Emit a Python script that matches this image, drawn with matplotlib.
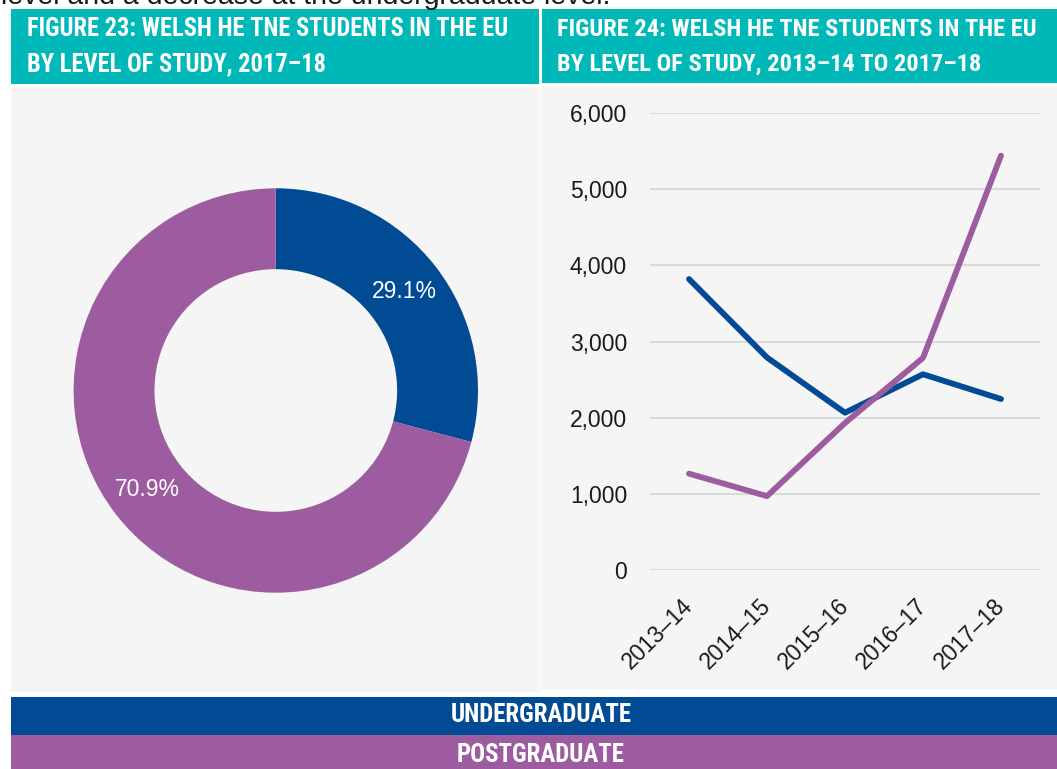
import os
import matplotlib
matplotlib.use("Agg")
import matplotlib.pyplot as plt
import matplotlib.font_manager as fm
from matplotlib.patches import Rectangle

# ---------------- data ----------------
pie_labels = ["Undergraduate", "Postgraduate"]
pie_shares = [29.1, 70.9]

years = ["2013–14", "2014–15", "2015–16", "2016–17", "2017–18"]
undergrad = [3820, 2790, 2065, 2570, 2245]
postgrad = [1265, 970, 1930, 2785, 5440]
y_ticks = [0, 1000, 2000, 3000, 4000, 5000, 6000]

title_left = ["FIGURE 23: WELSH HE TNE STUDENTS IN THE EU", "BY LEVEL OF STUDY, 2017–18"]
title_right = ["FIGURE 24: WELSH HE TNE STUDENTS IN THE EU", "BY LEVEL OF STUDY, 2013–14 TO 2017–18"]
legend_labels = ["UNDERGRADUATE", "POSTGRADUATE"]
top_text = "level and a decrease at the undergraduate level."

# ---------------- style ----------------
BLUE = "#004b93"
PURPLE = "#9d5c9f"
TEAL = "#00b8b8"
PANEL = "#f5f5f5"
GRID = "#d9d9d9"
TEXT = "#1a1a1a"

W, H = 1057, 769
DPI = 100
fig = plt.figure(figsize=(W / DPI, H / DPI), dpi=DPI, facecolor="white")


def find_font(patterns):
    for pat in patterns:
        for f in fm.fontManager.ttflist:
            base = os.path.splitext(os.path.basename(f.fname))[0]
            if base.lower() == pat.lower():
                return fm.FontProperties(fname=f.fname)
    return fm.FontProperties(family="DejaVu Sans", weight="bold", stretch="condensed")


COND = find_font(["RobotoCondensed-Bold", "NotoSans-CondensedBold", "NotoSansCondensed-Bold",
                  "LiberationSansNarrow-Bold", "DejaVuSansCondensed-Bold"])
REG = "Liberation Sans"


def fx(x):
    return x / W


def fy(y):
    return 1 - y / H


def rect(x0, y0, x1, y1, color):
    fig.add_artist(Rectangle((fx(x0), fy(y1)), fx(x1) - fx(x0), fy(y0) - fy(y1),
                             transform=fig.transFigure, facecolor=color, edgecolor="none",
                             zorder=0))


# panels
rect(11, 9.3, 539.3, 84.3, TEAL)
rect(541.5, 9.3, 1057, 83.3, TEAL)
rect(11, 87, 540, 692.3, PANEL)
rect(541, 86, 1057, 689.7, PANEL)
rect(11, 696.7, 1057, 735, BLUE)
rect(11, 735, 1057, 769, PURPLE)

renderer = fig.canvas.get_renderer()


def fitted_texts(lines, xs, ys, target_w, ha="left", ref=0):
    ts = []
    for s, x, y in zip(lines, xs, ys):
        t = fig.text(fx(x), fy(y), s, fontproperties=COND.copy(), color="white",
                     ha=ha, va="baseline", zorder=5)
        t.set_fontsize(20)
        ts.append(t)
    w = ts[ref].get_window_extent(renderer).width
    size = 20 * target_w / w
    for t in ts:
        t.set_fontsize(size)
    return ts


fitted_texts(title_left, [27, 27], [35.7, 71], 483)
fitted_texts(title_right, [556.8, 556.8], [35.7, 71], 481)
fitted_texts(legend_labels, [541, 541], [721.7, 762.5], 181.4, ha="center")

fig.text(fx(1), fy(4), top_text, family=REG, fontsize=20.5, color=TEXT, ha="left",
         va="baseline")

# ---------------- donut ----------------
axp = fig.add_axes([fx(73.3), fy(592.7), fx(478.3) - fx(73.3), fy(188.3) - fy(592.7)])
axp.set_facecolor("none")
axp.pie(pie_shares, colors=[BLUE, PURPLE], startangle=90, counterclock=False,
        radius=1, wedgeprops=dict(width=0.4, edgecolor="none"),
        autopct="%1.1f%%", pctdistance=0.8,
        textprops=dict(color="white", fontsize=16.5, family=REG))
axp.set_xlim(-1, 1)
axp.set_ylim(-1, 1)
axp.set_aspect("equal")
axp.axis("off")

# ---------------- line chart ----------------
axl = fig.add_axes([fx(650), fy(570), fx(1040) - fx(650), fy(113) - fy(570)])
axl.set_facecolor("none")
x = list(range(len(years)))
axl.plot(x, undergrad, color=BLUE, lw=4.2, solid_capstyle="round", solid_joinstyle="round",
         zorder=3, clip_on=False)
axl.plot(x, postgrad, color=PURPLE, lw=4.2, solid_capstyle="round", solid_joinstyle="round",
         zorder=4, clip_on=False)
axl.set_xlim(-0.5, 4.5)
axl.set_ylim(0, 6000)
axl.set_yticks(y_ticks)
axl.set_yticklabels([f"{v:,}" for v in y_ticks], family=REG, fontsize=16.5, color=TEXT)
axl.set_xticks(x)
axl.set_xticklabels(years, family=REG, fontsize=16.5, color=TEXT, rotation=45,
                    ha="right", va="center", rotation_mode="anchor")
axl.tick_params(axis="y", length=0, pad=16.5)
axl.tick_params(axis="x", length=0, pad=23)
axl.grid(axis="y", color=GRID, lw=1.45)
axl.set_axisbelow(True)
for sp in axl.spines.values():
    sp.set_visible(False)

fig.savefig("out.png", dpi=DPI, facecolor="white")
